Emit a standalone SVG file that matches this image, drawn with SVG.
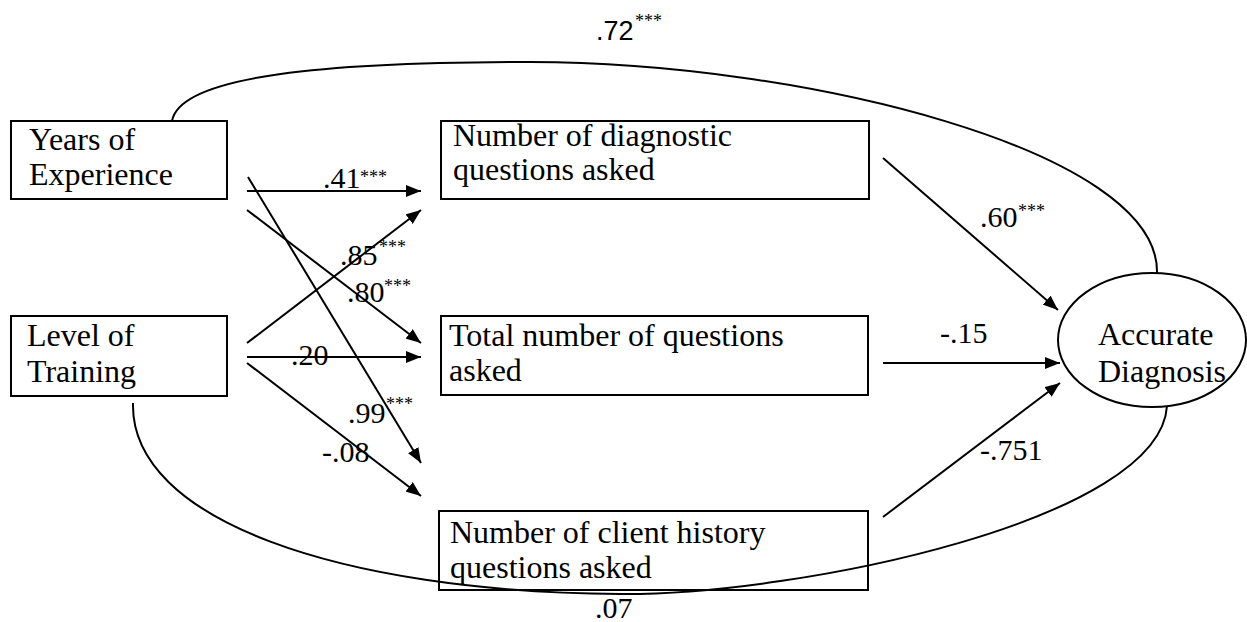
<svg xmlns="http://www.w3.org/2000/svg" width="1247" height="622" viewBox="0 0 1247 622">
<style>
.box{fill:none;stroke:#000;stroke-width:2}
.node{font-family:"Liberation Serif","Times New Roman",serif;font-size:32px;fill:#000}
.lbl{font-family:"Liberation Serif","Times New Roman",serif;font-size:30px;fill:#000}
.sig{font-family:"Liberation Serif","Times New Roman",serif;font-size:18px;fill:#000}
.edge{fill:none;stroke:#000;stroke-width:2}
.arr{marker-end:url(#ah)}
</style>
<defs>
<marker id="ah" viewBox="0 0 15 12" refX="15" refY="6" markerWidth="15" markerHeight="12" markerUnits="userSpaceOnUse" orient="auto">
<path d="M0,0 L15,6 L0,12 z" fill="#000"/>
</marker>
</defs>
<rect width="1247" height="622" fill="#fff"/>

<g id="years">
<rect class="box" x="11" y="121" width="216" height="78"/>
<text class="node" x="29" y="150">Years of</text>
<text class="node" x="29" y="185">Experience</text>
</g>
<g id="training">
<rect class="box" x="11" y="316" width="216" height="80"/>
<text class="node" x="27" y="346">Level of</text>
<text class="node" x="27" y="382">Training</text>
</g>
<g id="diagnostic">
<rect class="box" x="441" y="121" width="428" height="78"/>
<text class="node" x="453" y="146">Number of diagnostic</text>
<text class="node" x="453" y="180">questions asked</text>
</g>
<g id="total">
<rect class="box" x="441" y="316" width="427" height="79"/>
<text class="node" x="449" y="346">Total number of questions</text>
<text class="node" x="449" y="381">asked</text>
</g>
<g id="client">
<rect class="box" x="439" y="511" width="429" height="79"/>
<text class="node" x="450" y="543">Number of client history</text>
<text class="node" x="450" y="578">questions asked</text>
</g>
<g id="accurate">
<ellipse class="box" cx="1152" cy="340" rx="94" ry="67"/>
<text class="node" x="1098" y="345">Accurate</text>
<text class="node" x="1098" y="382">Diagnosis</text>
</g>

<g id="connectors">
<path class="edge" d="M172,121 C180,75 330,62 530,62 C800,62 1160,150 1157,273"/>
<path class="edge" d="M133,403 C130,520 340,592 620,594 C800,595 1160,520 1167,406"/>
<line class="edge arr" x1="247" y1="191" x2="421" y2="191"/>
<line class="edge arr" x1="247" y1="210" x2="421" y2="343"/>
<line class="edge arr" x1="248" y1="177" x2="421" y2="463"/>
<line class="edge arr" x1="247" y1="343" x2="421" y2="210"/>
<line class="edge arr" x1="247" y1="357" x2="421" y2="357"/>
<line class="edge arr" x1="247" y1="363" x2="421" y2="496"/>
<line class="edge arr" x1="883" y1="158" x2="1058" y2="310"/>
<line class="edge arr" x1="883" y1="363" x2="1060" y2="363"/>
<line class="edge arr" x1="883" y1="517" x2="1060" y2="383"/>
</g>

<g id="labels">
<text x="596" y="40" style="font-family:'Liberation Sans',Arial,sans-serif;font-size:27px">.72</text>
<text class="sig" x="635" y="27">***</text>
<text class="lbl" x="323" y="188">.41</text>
<text class="sig" x="360" y="183">***</text>
<text class="lbl" x="340" y="265">.85</text>
<text class="sig" x="379" y="253">***</text>
<text class="lbl" x="347" y="302">.80</text>
<text class="sig" x="384" y="292">***</text>
<text class="lbl" x="291" y="365">.20</text>
<text class="lbl" x="348" y="423">.99</text>
<text class="sig" x="386" y="410">***</text>
<text class="lbl" x="322" y="462">-.08</text>
<text class="lbl" x="980" y="227">.60</text>
<text class="sig" x="1018" y="217">***</text>
<text class="lbl" x="940" y="343">-.15</text>
<text class="lbl" x="980" y="460">-.751</text>
<text class="lbl" x="595" y="618">.07</text>
</g>
</svg>
